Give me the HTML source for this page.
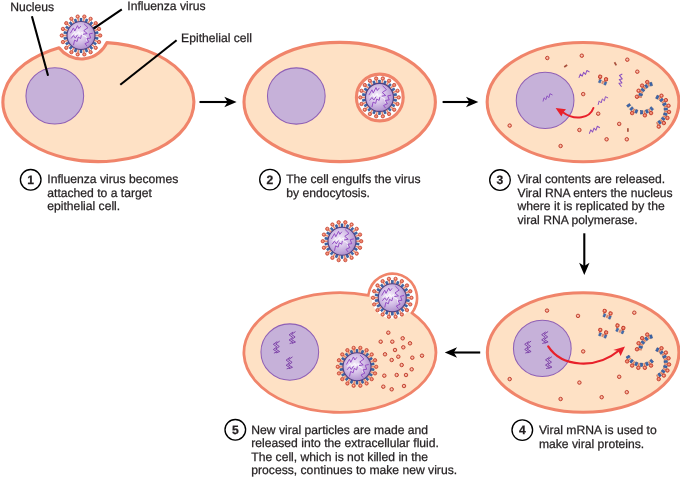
<!DOCTYPE html>
<html lang="en"><head><meta charset="utf-8"><title>Influenza virus infection cycle</title>
<style>
html,body{margin:0;padding:0;background:#fff;}
body{width:680px;height:480px;overflow:hidden;}
svg{display:block;will-change:transform;transform:translateZ(0);}
svg text{text-rendering:geometricPrecision;font-family:"Liberation Sans",Arial,Helvetica,sans-serif;font-size:12.15px;fill:#231F20;stroke:#231F20;stroke-width:0.25px;}
</style></head><body>
<svg width="680" height="480" viewBox="0 0 680 480">
<defs>
<radialGradient id="kg" cx="0.45" cy="0.45" r="0.6"><stop offset="0" stop-color="#FAD0C2"/><stop offset="0.3" stop-color="#F08A70"/><stop offset="1" stop-color="#EB7258"/></radialGradient>
<radialGradient id="pg" cx="0.45" cy="0.45" r="0.6"><stop offset="0" stop-color="#FAD0C2"/><stop offset="0.5" stop-color="#F5A38C"/><stop offset="1" stop-color="#EF8A72"/></radialGradient>
<radialGradient id="vg" cx="0.42" cy="0.42" r="0.62"><stop offset="0" stop-color="#F4ECFA"/><stop offset="0.45" stop-color="#D9C6EA"/><stop offset="1" stop-color="#AB8BCB"/></radialGradient>
<g id="virus"><rect x="-1" y="-17.3" width="2" height="3.3" fill="#3B67B0" stroke="#27457D" stroke-width="0.5" transform="rotate(0)"/><rect x="-1" y="-17.3" width="2" height="3.3" fill="#3B67B0" stroke="#27457D" stroke-width="0.5" transform="rotate(20)"/><rect x="-1" y="-17.3" width="2" height="3.3" fill="#3B67B0" stroke="#27457D" stroke-width="0.5" transform="rotate(40)"/><rect x="-1" y="-17.3" width="2" height="3.3" fill="#3B67B0" stroke="#27457D" stroke-width="0.5" transform="rotate(60)"/><rect x="-1" y="-17.3" width="2" height="3.3" fill="#3B67B0" stroke="#27457D" stroke-width="0.5" transform="rotate(80)"/><rect x="-1" y="-17.3" width="2" height="3.3" fill="#3B67B0" stroke="#27457D" stroke-width="0.5" transform="rotate(100)"/><rect x="-1" y="-17.3" width="2" height="3.3" fill="#3B67B0" stroke="#27457D" stroke-width="0.5" transform="rotate(120)"/><rect x="-1" y="-17.3" width="2" height="3.3" fill="#3B67B0" stroke="#27457D" stroke-width="0.5" transform="rotate(140)"/><rect x="-1" y="-17.3" width="2" height="3.3" fill="#3B67B0" stroke="#27457D" stroke-width="0.5" transform="rotate(160)"/><rect x="-1" y="-17.3" width="2" height="3.3" fill="#3B67B0" stroke="#27457D" stroke-width="0.5" transform="rotate(180)"/><rect x="-1" y="-17.3" width="2" height="3.3" fill="#3B67B0" stroke="#27457D" stroke-width="0.5" transform="rotate(200)"/><rect x="-1" y="-17.3" width="2" height="3.3" fill="#3B67B0" stroke="#27457D" stroke-width="0.5" transform="rotate(220)"/><rect x="-1" y="-17.3" width="2" height="3.3" fill="#3B67B0" stroke="#27457D" stroke-width="0.5" transform="rotate(240)"/><rect x="-1" y="-17.3" width="2" height="3.3" fill="#3B67B0" stroke="#27457D" stroke-width="0.5" transform="rotate(260)"/><rect x="-1" y="-17.3" width="2" height="3.3" fill="#3B67B0" stroke="#27457D" stroke-width="0.5" transform="rotate(280)"/><rect x="-1" y="-17.3" width="2" height="3.3" fill="#3B67B0" stroke="#27457D" stroke-width="0.5" transform="rotate(300)"/><rect x="-1" y="-17.3" width="2" height="3.3" fill="#3B67B0" stroke="#27457D" stroke-width="0.5" transform="rotate(320)"/><rect x="-1" y="-17.3" width="2" height="3.3" fill="#3B67B0" stroke="#27457D" stroke-width="0.5" transform="rotate(340)"/><line x1="2.43" y1="-13.79" x2="3.04" y2="-17.23" stroke="#E88E76" stroke-width="1.6"/><circle cx="3.33" cy="-18.91" r="1.7" fill="url(#kg)" stroke="#BE3828" stroke-width="0.7"/><line x1="7" y1="-12.12" x2="8.75" y2="-15.16" stroke="#E88E76" stroke-width="1.6"/><circle cx="9.6" cy="-16.63" r="1.7" fill="url(#kg)" stroke="#BE3828" stroke-width="0.7"/><line x1="10.72" y1="-9" x2="13.41" y2="-11.25" stroke="#E88E76" stroke-width="1.6"/><circle cx="14.71" cy="-12.34" r="1.7" fill="url(#kg)" stroke="#BE3828" stroke-width="0.7"/><line x1="13.16" y1="-4.79" x2="16.44" y2="-5.99" stroke="#E88E76" stroke-width="1.6"/><circle cx="18.04" cy="-6.57" r="1.7" fill="url(#kg)" stroke="#BE3828" stroke-width="0.7"/><line x1="14" y1="-0" x2="17.5" y2="-0" stroke="#E88E76" stroke-width="1.6"/><circle cx="19.2" cy="-0" r="1.7" fill="url(#kg)" stroke="#BE3828" stroke-width="0.7"/><line x1="13.16" y1="4.79" x2="16.44" y2="5.99" stroke="#E88E76" stroke-width="1.6"/><circle cx="18.04" cy="6.57" r="1.7" fill="url(#kg)" stroke="#BE3828" stroke-width="0.7"/><line x1="10.72" y1="9" x2="13.41" y2="11.25" stroke="#E88E76" stroke-width="1.6"/><circle cx="14.71" cy="12.34" r="1.7" fill="url(#kg)" stroke="#BE3828" stroke-width="0.7"/><line x1="7" y1="12.12" x2="8.75" y2="15.16" stroke="#E88E76" stroke-width="1.6"/><circle cx="9.6" cy="16.63" r="1.7" fill="url(#kg)" stroke="#BE3828" stroke-width="0.7"/><line x1="2.43" y1="13.79" x2="3.04" y2="17.23" stroke="#E88E76" stroke-width="1.6"/><circle cx="3.33" cy="18.91" r="1.7" fill="url(#kg)" stroke="#BE3828" stroke-width="0.7"/><line x1="-2.43" y1="13.79" x2="-3.04" y2="17.23" stroke="#E88E76" stroke-width="1.6"/><circle cx="-3.33" cy="18.91" r="1.7" fill="url(#kg)" stroke="#BE3828" stroke-width="0.7"/><line x1="-7" y1="12.12" x2="-8.75" y2="15.16" stroke="#E88E76" stroke-width="1.6"/><circle cx="-9.6" cy="16.63" r="1.7" fill="url(#kg)" stroke="#BE3828" stroke-width="0.7"/><line x1="-10.72" y1="9" x2="-13.41" y2="11.25" stroke="#E88E76" stroke-width="1.6"/><circle cx="-14.71" cy="12.34" r="1.7" fill="url(#kg)" stroke="#BE3828" stroke-width="0.7"/><line x1="-13.16" y1="4.79" x2="-16.44" y2="5.99" stroke="#E88E76" stroke-width="1.6"/><circle cx="-18.04" cy="6.57" r="1.7" fill="url(#kg)" stroke="#BE3828" stroke-width="0.7"/><line x1="-14" y1="0" x2="-17.5" y2="0" stroke="#E88E76" stroke-width="1.6"/><circle cx="-19.2" cy="0" r="1.7" fill="url(#kg)" stroke="#BE3828" stroke-width="0.7"/><line x1="-13.16" y1="-4.79" x2="-16.44" y2="-5.99" stroke="#E88E76" stroke-width="1.6"/><circle cx="-18.04" cy="-6.57" r="1.7" fill="url(#kg)" stroke="#BE3828" stroke-width="0.7"/><line x1="-10.72" y1="-9" x2="-13.41" y2="-11.25" stroke="#E88E76" stroke-width="1.6"/><circle cx="-14.71" cy="-12.34" r="1.7" fill="url(#kg)" stroke="#BE3828" stroke-width="0.7"/><line x1="-7" y1="-12.12" x2="-8.75" y2="-15.16" stroke="#E88E76" stroke-width="1.6"/><circle cx="-9.6" cy="-16.63" r="1.7" fill="url(#kg)" stroke="#BE3828" stroke-width="0.7"/><line x1="-2.43" y1="-13.79" x2="-3.04" y2="-17.23" stroke="#E88E76" stroke-width="1.6"/><circle cx="-3.33" cy="-18.91" r="1.7" fill="url(#kg)" stroke="#BE3828" stroke-width="0.7"/><circle r="14" fill="url(#vg)" stroke="#4F3F80" stroke-width="1.1"/><polyline points="-9.54,0.09 -6.42,-3.21 -5.32,-0.46 -2.39,-3.94 -1.28,-1.01 1.28,-3.39 2.2,-0.09 5.14,1.38 5.87,5.41" fill="none" stroke="#FFFFFF" stroke-width="1" stroke-linejoin="round" opacity="0.75"/><polyline points="-10.64,-2.29 -7.52,-7.61 -6.24,-4.5 -3.49,-9.82 -2.2,-6.88 -0.18,-9.45" fill="none" stroke="#9048C2" stroke-width="0.95" stroke-linejoin="round"/><polyline points="-7.52,9.63 -6.42,4.68 -3.85,5.96 -2.75,1.56 -0.37,3.03 0.37,-0.28" fill="none" stroke="#9048C2" stroke-width="0.95" stroke-linejoin="round"/><polyline points="3.12,-11.65 6.97,-7.8 2.75,-4.86 6.24,-1.93 2.02,-1.19" fill="none" stroke="#9048C2" stroke-width="0.95" stroke-linejoin="round"/><polyline points="11.74,-2.29 8.26,-1.56 9.72,2.48 5.87,3.03 7.89,6.33 4.04,8.17 6.06,10.73" fill="none" stroke="#9048C2" stroke-width="0.95" stroke-linejoin="round"/><polyline points="-9.91,3.03 -7.52,0.09 -5.69,2.66 -3.49,-0.64" fill="none" stroke="#9048C2" stroke-width="0.95" stroke-linejoin="round"/></g>
<path id="ah" d="M0,0 L-12.3,-5.2 L-9,0 L-12.3,5.2 Z" fill="#000"/>
<circle id="pc" r="1.75" fill="url(#pg)" stroke="#BD3C2B" stroke-width="0.9"/>
<polyline id="sq" points="-5,3.6 -3.9,-0.4 -1.9,1.6 -0.8,-2.4 1.3,-0.5 2.3,-4.6 5,-3.3" fill="none" stroke="#8B50C0" stroke-width="1" stroke-linejoin="round"/>
<g id="dz" fill="none" stroke="#7B3FA6" stroke-width="0.95" stroke-linejoin="round"><polyline points="3.2,-6 -0.8,-3.2 2.8,-0.6 -0.8,2 3.2,4.4 -0.2,5.8"/><polyline points="0.8,-5.6 -3.2,-2.8 0.4,-0.2 -3.2,2.4 0.8,4.8 -2.6,6"/></g>
</defs>
<path d="M106.88,42.64 A95.5,59.6 0 1 1 59.05,47.7 A27.98,27.98 0 0 0 106.88,42.64 Z" fill="#FEE1C5" stroke="#F0846A" stroke-width="3.1" stroke-linejoin="round"/>
<ellipse cx="54.8" cy="95.9" rx="28.85" ry="28.15" fill="#C6B1D9" stroke="#8F60B6" stroke-width="1.05"/>
<use href="#virus" transform="translate(81,35.5)"/>
<ellipse cx="339.7" cy="102" rx="95.7" ry="59.6" fill="#FEE1C5" stroke="#F0846A" stroke-width="3.1" stroke-linejoin="round"/>
<ellipse cx="296.3" cy="96" rx="28.85" ry="28.15" fill="#C6B1D9" stroke="#8F60B6" stroke-width="1.05"/>
<circle cx="379.8" cy="97.5" r="23.4" fill="#fff" stroke="#F0846A" stroke-width="3.1"/>
<use href="#virus" transform="translate(379.5,97.4)"/>
<ellipse cx="583.05" cy="102.1" rx="95.9" ry="59.6" fill="#FEE1C5" stroke="#F0846A" stroke-width="3.1" stroke-linejoin="round"/>
<ellipse cx="545.1" cy="100.4" rx="28.85" ry="28.15" fill="#C6B1D9" stroke="#8F60B6" stroke-width="1.05"/>
<use href="#pc" transform="translate(547.3,58)"/>
<use href="#pc" transform="translate(581.8,55.7)"/>
<use href="#pc" transform="translate(627.3,59.7)"/>
<use href="#pc" transform="translate(637.3,71.7)"/>
<use href="#pc" transform="translate(583.2,94.1)"/>
<use href="#pc" transform="translate(598.2,113.7)"/>
<use href="#pc" transform="translate(579.4,130)"/>
<use href="#pc" transform="translate(619.2,123.9)"/>
<use href="#pc" transform="translate(606.6,139.3)"/>
<use href="#pc" transform="translate(626.8,139.3)"/>
<use href="#pc" transform="translate(560.6,146)"/>
<use href="#pc" transform="translate(509.7,125.6)"/>
<rect x="-1.8" y="-0.85" width="3.6" height="1.7" fill="#A8503C" transform="translate(565.7,66) rotate(-35)"/>
<rect x="-1.8" y="-0.85" width="3.6" height="1.7" fill="#A8503C" transform="translate(615.4,63.8) rotate(60)"/>
<rect x="-1.8" y="-0.85" width="3.6" height="1.7" fill="#A8503C" transform="translate(627.9,130) rotate(90)"/>
<use href="#sq" transform="translate(584.2,74.8) rotate(5)"/>
<use href="#sq" transform="translate(621.8,80.3) rotate(-52) scale(1.05)"/>
<use href="#sq" transform="translate(603.1,101.3) rotate(0)"/>
<use href="#sq" transform="translate(594.6,130.6) rotate(5)"/>
<use href="#sq" transform="translate(547.75,98.1) rotate(0) scale(0.95)"/>
<g transform="translate(603,80.5) rotate(22)"><rect x="-3.6" y="0.2" width="2" height="3.2" fill="#3F6EB6" stroke="#2C4C86" stroke-width="0.4"/><rect x="-0.6" y="0.2" width="2" height="3.2" fill="#C9664E" opacity="0.7"/><rect x="2.2" y="0.2" width="2" height="3.2" fill="#3F6EB6" stroke="#2C4C86" stroke-width="0.4"/><line x1="-4" y1="1" x2="-4" y2="-1" stroke="#C9664E" stroke-width="0.9"/><line x1="2" y1="1" x2="2" y2="-1" stroke="#C9664E" stroke-width="0.9"/><circle cx="-4" cy="-2.4" r="1.7" fill="url(#kg)" stroke="#C23A2A" stroke-width="0.9"/><circle cx="2.4" cy="-2.2" r="1.7" fill="url(#kg)" stroke="#C23A2A" stroke-width="0.9"/></g>
<rect x="-0.8" y="-16.2" width="1.6" height="3.2" fill="#D98468" transform="translate(654.8,98.3) rotate(-85)"/><circle cx="636.97" cy="96.74" r="1.75" fill="url(#kg)" stroke="#C23A2A" stroke-width="0.9"/><rect x="-1.1" y="-16.3" width="2.2" height="3.4" fill="#3B67B0" stroke="#27457D" stroke-width="0.5" transform="translate(654.8,98.3) rotate(-75)"/><rect x="-0.8" y="-16.2" width="1.6" height="3.2" fill="#D98468" transform="translate(654.8,98.3) rotate(-65)"/><circle cx="638.58" cy="90.74" r="1.75" fill="url(#kg)" stroke="#C23A2A" stroke-width="0.9"/><rect x="-1.1" y="-16.3" width="2.2" height="3.4" fill="#3B67B0" stroke="#27457D" stroke-width="0.5" transform="translate(654.8,98.3) rotate(-55)"/><rect x="-0.8" y="-16.2" width="1.6" height="3.2" fill="#D98468" transform="translate(654.8,98.3) rotate(-45)"/><circle cx="642.14" cy="85.64" r="1.75" fill="url(#kg)" stroke="#C23A2A" stroke-width="0.9"/><rect x="-1.1" y="-16.3" width="2.2" height="3.4" fill="#3B67B0" stroke="#27457D" stroke-width="0.5" transform="translate(654.8,98.3) rotate(-35)"/><rect x="-0.8" y="-16.2" width="1.6" height="3.2" fill="#D98468" transform="translate(654.8,98.3) rotate(-25)"/><circle cx="647.24" cy="82.08" r="1.75" fill="url(#kg)" stroke="#C23A2A" stroke-width="0.9"/><rect x="-1.1" y="-16.3" width="2.2" height="3.4" fill="#3B67B0" stroke="#27457D" stroke-width="0.5" transform="translate(654.8,98.3) rotate(-15)"/>
<rect x="-1.1" y="-17.3" width="2.2" height="3.4" fill="#3B67B0" stroke="#27457D" stroke-width="0.5" transform="translate(641.6,96.7) rotate(140)"/><rect x="-0.8" y="-17.2" width="1.6" height="3.2" fill="#D98468" transform="translate(641.6,96.7) rotate(150)"/><circle cx="651.05" cy="113.07" r="1.75" fill="url(#kg)" stroke="#C23A2A" stroke-width="0.9"/><rect x="-1.1" y="-17.3" width="2.2" height="3.4" fill="#3B67B0" stroke="#27457D" stroke-width="0.5" transform="translate(641.6,96.7) rotate(160)"/><rect x="-0.8" y="-17.2" width="1.6" height="3.2" fill="#D98468" transform="translate(641.6,96.7) rotate(170)"/><circle cx="644.88" cy="115.31" r="1.75" fill="url(#kg)" stroke="#C23A2A" stroke-width="0.9"/><rect x="-1.1" y="-17.3" width="2.2" height="3.4" fill="#3B67B0" stroke="#27457D" stroke-width="0.5" transform="translate(641.6,96.7) rotate(180)"/>
<rect x="-1.1" y="-17.3" width="2.2" height="3.4" fill="#3B67B0" stroke="#27457D" stroke-width="0.5" transform="translate(641.6,96.7) rotate(200)"/><rect x="-0.8" y="-17.2" width="1.6" height="3.2" fill="#D98468" transform="translate(641.6,96.7) rotate(210)"/><circle cx="632.15" cy="113.07" r="1.75" fill="url(#kg)" stroke="#C23A2A" stroke-width="0.9"/><rect x="-1.1" y="-17.3" width="2.2" height="3.4" fill="#3B67B0" stroke="#27457D" stroke-width="0.5" transform="translate(641.6,96.7) rotate(220)"/>
<rect x="-1.1" y="-17.3" width="2.2" height="3.4" fill="#3B67B0" stroke="#27457D" stroke-width="0.5" transform="translate(641.6,96.7) rotate(236)"/>
<rect x="-1.1" y="-16.3" width="2.2" height="3.4" fill="#3B67B0" stroke="#27457D" stroke-width="0.5" transform="translate(651.2,110.4) rotate(25)"/><rect x="-0.8" y="-16.2" width="1.6" height="3.2" fill="#D98468" transform="translate(651.2,110.4) rotate(35)"/><circle cx="661.47" cy="95.74" r="1.75" fill="url(#kg)" stroke="#C23A2A" stroke-width="0.9"/><rect x="-1.1" y="-16.3" width="2.2" height="3.4" fill="#3B67B0" stroke="#27457D" stroke-width="0.5" transform="translate(651.2,110.4) rotate(45)"/><rect x="-0.8" y="-16.2" width="1.6" height="3.2" fill="#D98468" transform="translate(651.2,110.4) rotate(55)"/><circle cx="665.86" cy="100.13" r="1.75" fill="url(#kg)" stroke="#C23A2A" stroke-width="0.9"/><rect x="-1.1" y="-16.3" width="2.2" height="3.4" fill="#3B67B0" stroke="#27457D" stroke-width="0.5" transform="translate(651.2,110.4) rotate(65)"/><rect x="-0.8" y="-16.2" width="1.6" height="3.2" fill="#D98468" transform="translate(651.2,110.4) rotate(75)"/><circle cx="668.49" cy="105.77" r="1.75" fill="url(#kg)" stroke="#C23A2A" stroke-width="0.9"/><rect x="-1.1" y="-16.3" width="2.2" height="3.4" fill="#3B67B0" stroke="#27457D" stroke-width="0.5" transform="translate(651.2,110.4) rotate(85)"/><rect x="-0.8" y="-16.2" width="1.6" height="3.2" fill="#D98468" transform="translate(651.2,110.4) rotate(95)"/><circle cx="669.03" cy="111.96" r="1.75" fill="url(#kg)" stroke="#C23A2A" stroke-width="0.9"/><rect x="-1.1" y="-16.3" width="2.2" height="3.4" fill="#3B67B0" stroke="#27457D" stroke-width="0.5" transform="translate(651.2,110.4) rotate(105)"/><rect x="-0.8" y="-16.2" width="1.6" height="3.2" fill="#D98468" transform="translate(651.2,110.4) rotate(115)"/><circle cx="667.42" cy="117.96" r="1.75" fill="url(#kg)" stroke="#C23A2A" stroke-width="0.9"/><rect x="-1.1" y="-16.3" width="2.2" height="3.4" fill="#3B67B0" stroke="#27457D" stroke-width="0.5" transform="translate(651.2,110.4) rotate(125)"/><rect x="-0.8" y="-16.2" width="1.6" height="3.2" fill="#D98468" transform="translate(651.2,110.4) rotate(135)"/><circle cx="663.86" cy="123.06" r="1.75" fill="url(#kg)" stroke="#C23A2A" stroke-width="0.9"/><rect x="-1.1" y="-16.3" width="2.2" height="3.4" fill="#3B67B0" stroke="#27457D" stroke-width="0.5" transform="translate(651.2,110.4) rotate(145)"/><rect x="-0.8" y="-16.2" width="1.6" height="3.2" fill="#D98468" transform="translate(651.2,110.4) rotate(155)"/><circle cx="658.76" cy="126.62" r="1.75" fill="url(#kg)" stroke="#C23A2A" stroke-width="0.9"/>
<path d="M593.4,108 C590,118 575,121.5 562.5,112" fill="none" stroke="#E8202A" stroke-width="2" stroke-linecap="round"/>
<path d="M555.6,108.1 L566,109.2 L563.2,112.4 L561.4,116.6 Z" fill="#E8202A"/>
<ellipse cx="583.15" cy="352.5" rx="95.8" ry="59.8" fill="#FEE1C5" stroke="#F0846A" stroke-width="3.1" stroke-linejoin="round"/>
<ellipse cx="542.3" cy="348.4" rx="28.85" ry="28.15" fill="#C6B1D9" stroke="#8F60B6" stroke-width="1.05"/>
<use href="#pc" transform="translate(547,310.6)"/>
<use href="#pc" transform="translate(578,315.9)"/>
<use href="#pc" transform="translate(634.3,312.7)"/>
<use href="#pc" transform="translate(583.2,351.4)"/>
<use href="#pc" transform="translate(509.7,379.1)"/>
<use href="#pc" transform="translate(579.4,382.6)"/>
<use href="#pc" transform="translate(619.2,376.8)"/>
<use href="#pc" transform="translate(601.7,397.2)"/>
<use href="#pc" transform="translate(626.8,392.2)"/>
<use href="#pc" transform="translate(560.6,399)"/>
<use href="#dz" transform="translate(544.9,337.5)"/>
<use href="#dz" transform="translate(527.9,347.1)"/>
<use href="#dz" transform="translate(548.7,362.7)"/>
<g transform="translate(607.5,314.6) rotate(22)"><rect x="-3.6" y="0.2" width="2" height="3.2" fill="#3F6EB6" stroke="#2C4C86" stroke-width="0.4"/><rect x="-0.6" y="0.2" width="2" height="3.2" fill="#C9664E" opacity="0.7"/><rect x="2.2" y="0.2" width="2" height="3.2" fill="#3F6EB6" stroke="#2C4C86" stroke-width="0.4"/><line x1="-4" y1="1" x2="-4" y2="-1" stroke="#C9664E" stroke-width="0.9"/><line x1="2" y1="1" x2="2" y2="-1" stroke="#C9664E" stroke-width="0.9"/><circle cx="-4" cy="-2.4" r="1.7" fill="url(#kg)" stroke="#C23A2A" stroke-width="0.9"/><circle cx="2.4" cy="-2.2" r="1.7" fill="url(#kg)" stroke="#C23A2A" stroke-width="0.9"/></g>
<g transform="translate(603.1,333.6) rotate(22)"><rect x="-3.6" y="0.2" width="2" height="3.2" fill="#3F6EB6" stroke="#2C4C86" stroke-width="0.4"/><rect x="-0.6" y="0.2" width="2" height="3.2" fill="#C9664E" opacity="0.7"/><rect x="2.2" y="0.2" width="2" height="3.2" fill="#3F6EB6" stroke="#2C4C86" stroke-width="0.4"/><line x1="-4" y1="1" x2="-4" y2="-1" stroke="#C9664E" stroke-width="0.9"/><line x1="2" y1="1" x2="2" y2="-1" stroke="#C9664E" stroke-width="0.9"/><circle cx="-4" cy="-2.4" r="1.7" fill="url(#kg)" stroke="#C23A2A" stroke-width="0.9"/><circle cx="2.4" cy="-2.2" r="1.7" fill="url(#kg)" stroke="#C23A2A" stroke-width="0.9"/></g>
<g transform="translate(620.3,329.2) rotate(22)"><rect x="-3.6" y="0.2" width="2" height="3.2" fill="#3F6EB6" stroke="#2C4C86" stroke-width="0.4"/><rect x="-0.6" y="0.2" width="2" height="3.2" fill="#C9664E" opacity="0.7"/><rect x="2.2" y="0.2" width="2" height="3.2" fill="#3F6EB6" stroke="#2C4C86" stroke-width="0.4"/><line x1="-4" y1="1" x2="-4" y2="-1" stroke="#C9664E" stroke-width="0.9"/><line x1="2" y1="1" x2="2" y2="-1" stroke="#C9664E" stroke-width="0.9"/><circle cx="-4" cy="-2.4" r="1.7" fill="url(#kg)" stroke="#C23A2A" stroke-width="0.9"/><circle cx="2.4" cy="-2.2" r="1.7" fill="url(#kg)" stroke="#C23A2A" stroke-width="0.9"/></g>
<rect x="-0.8" y="-16.2" width="1.6" height="3.2" fill="#D98468" transform="translate(654.8,350.8) rotate(-85)"/><circle cx="636.97" cy="349.24" r="1.75" fill="url(#kg)" stroke="#C23A2A" stroke-width="0.9"/><rect x="-1.1" y="-16.3" width="2.2" height="3.4" fill="#3B67B0" stroke="#27457D" stroke-width="0.5" transform="translate(654.8,350.8) rotate(-75)"/><rect x="-0.8" y="-16.2" width="1.6" height="3.2" fill="#D98468" transform="translate(654.8,350.8) rotate(-65)"/><circle cx="638.58" cy="343.24" r="1.75" fill="url(#kg)" stroke="#C23A2A" stroke-width="0.9"/><rect x="-1.1" y="-16.3" width="2.2" height="3.4" fill="#3B67B0" stroke="#27457D" stroke-width="0.5" transform="translate(654.8,350.8) rotate(-55)"/><rect x="-0.8" y="-16.2" width="1.6" height="3.2" fill="#D98468" transform="translate(654.8,350.8) rotate(-45)"/><circle cx="642.14" cy="338.14" r="1.75" fill="url(#kg)" stroke="#C23A2A" stroke-width="0.9"/><rect x="-1.1" y="-16.3" width="2.2" height="3.4" fill="#3B67B0" stroke="#27457D" stroke-width="0.5" transform="translate(654.8,350.8) rotate(-35)"/><rect x="-0.8" y="-16.2" width="1.6" height="3.2" fill="#D98468" transform="translate(654.8,350.8) rotate(-25)"/><circle cx="647.24" cy="334.58" r="1.75" fill="url(#kg)" stroke="#C23A2A" stroke-width="0.9"/><rect x="-1.1" y="-16.3" width="2.2" height="3.4" fill="#3B67B0" stroke="#27457D" stroke-width="0.5" transform="translate(654.8,350.8) rotate(-15)"/>
<rect x="-1.1" y="-17.3" width="2.2" height="3.4" fill="#3B67B0" stroke="#27457D" stroke-width="0.5" transform="translate(641.6,349.2) rotate(140)"/><rect x="-0.8" y="-17.2" width="1.6" height="3.2" fill="#D98468" transform="translate(641.6,349.2) rotate(150)"/><circle cx="651.05" cy="365.57" r="1.75" fill="url(#kg)" stroke="#C23A2A" stroke-width="0.9"/><rect x="-1.1" y="-17.3" width="2.2" height="3.4" fill="#3B67B0" stroke="#27457D" stroke-width="0.5" transform="translate(641.6,349.2) rotate(160)"/><rect x="-0.8" y="-17.2" width="1.6" height="3.2" fill="#D98468" transform="translate(641.6,349.2) rotate(170)"/><circle cx="644.88" cy="367.81" r="1.75" fill="url(#kg)" stroke="#C23A2A" stroke-width="0.9"/><rect x="-1.1" y="-17.3" width="2.2" height="3.4" fill="#3B67B0" stroke="#27457D" stroke-width="0.5" transform="translate(641.6,349.2) rotate(180)"/><rect x="-0.8" y="-17.2" width="1.6" height="3.2" fill="#D98468" transform="translate(641.6,349.2) rotate(190)"/><circle cx="638.32" cy="367.81" r="1.75" fill="url(#kg)" stroke="#C23A2A" stroke-width="0.9"/><rect x="-1.1" y="-17.3" width="2.2" height="3.4" fill="#3B67B0" stroke="#27457D" stroke-width="0.5" transform="translate(641.6,349.2) rotate(200)"/><rect x="-0.8" y="-17.2" width="1.6" height="3.2" fill="#D98468" transform="translate(641.6,349.2) rotate(210)"/><circle cx="632.15" cy="365.57" r="1.75" fill="url(#kg)" stroke="#C23A2A" stroke-width="0.9"/><rect x="-1.1" y="-17.3" width="2.2" height="3.4" fill="#3B67B0" stroke="#27457D" stroke-width="0.5" transform="translate(641.6,349.2) rotate(220)"/><rect x="-0.8" y="-17.2" width="1.6" height="3.2" fill="#D98468" transform="translate(641.6,349.2) rotate(230)"/><circle cx="627.12" cy="361.35" r="1.75" fill="url(#kg)" stroke="#C23A2A" stroke-width="0.9"/><rect x="-1.1" y="-17.3" width="2.2" height="3.4" fill="#3B67B0" stroke="#27457D" stroke-width="0.5" transform="translate(641.6,349.2) rotate(240)"/>
<rect x="-1.1" y="-16.3" width="2.2" height="3.4" fill="#3B67B0" stroke="#27457D" stroke-width="0.5" transform="translate(651.2,362.9) rotate(25)"/><rect x="-0.8" y="-16.2" width="1.6" height="3.2" fill="#D98468" transform="translate(651.2,362.9) rotate(35)"/><circle cx="661.47" cy="348.24" r="1.75" fill="url(#kg)" stroke="#C23A2A" stroke-width="0.9"/><rect x="-1.1" y="-16.3" width="2.2" height="3.4" fill="#3B67B0" stroke="#27457D" stroke-width="0.5" transform="translate(651.2,362.9) rotate(45)"/><rect x="-0.8" y="-16.2" width="1.6" height="3.2" fill="#D98468" transform="translate(651.2,362.9) rotate(55)"/><circle cx="665.86" cy="352.63" r="1.75" fill="url(#kg)" stroke="#C23A2A" stroke-width="0.9"/><rect x="-1.1" y="-16.3" width="2.2" height="3.4" fill="#3B67B0" stroke="#27457D" stroke-width="0.5" transform="translate(651.2,362.9) rotate(65)"/><rect x="-0.8" y="-16.2" width="1.6" height="3.2" fill="#D98468" transform="translate(651.2,362.9) rotate(75)"/><circle cx="668.49" cy="358.27" r="1.75" fill="url(#kg)" stroke="#C23A2A" stroke-width="0.9"/><rect x="-1.1" y="-16.3" width="2.2" height="3.4" fill="#3B67B0" stroke="#27457D" stroke-width="0.5" transform="translate(651.2,362.9) rotate(85)"/><rect x="-0.8" y="-16.2" width="1.6" height="3.2" fill="#D98468" transform="translate(651.2,362.9) rotate(95)"/><circle cx="669.03" cy="364.46" r="1.75" fill="url(#kg)" stroke="#C23A2A" stroke-width="0.9"/><rect x="-1.1" y="-16.3" width="2.2" height="3.4" fill="#3B67B0" stroke="#27457D" stroke-width="0.5" transform="translate(651.2,362.9) rotate(105)"/><rect x="-0.8" y="-16.2" width="1.6" height="3.2" fill="#D98468" transform="translate(651.2,362.9) rotate(115)"/><circle cx="667.42" cy="370.46" r="1.75" fill="url(#kg)" stroke="#C23A2A" stroke-width="0.9"/><rect x="-1.1" y="-16.3" width="2.2" height="3.4" fill="#3B67B0" stroke="#27457D" stroke-width="0.5" transform="translate(651.2,362.9) rotate(125)"/><rect x="-0.8" y="-16.2" width="1.6" height="3.2" fill="#D98468" transform="translate(651.2,362.9) rotate(135)"/><circle cx="663.86" cy="375.56" r="1.75" fill="url(#kg)" stroke="#C23A2A" stroke-width="0.9"/><rect x="-1.1" y="-16.3" width="2.2" height="3.4" fill="#3B67B0" stroke="#27457D" stroke-width="0.5" transform="translate(651.2,362.9) rotate(145)"/><rect x="-0.8" y="-16.2" width="1.6" height="3.2" fill="#D98468" transform="translate(651.2,362.9) rotate(155)"/><circle cx="658.76" cy="379.12" r="1.75" fill="url(#kg)" stroke="#C23A2A" stroke-width="0.9"/>
<path d="M548.2,346.4 C562,367.5 596,369.5 619,350.5" fill="none" stroke="#E8202A" stroke-width="2.2" stroke-linecap="round"/>
<path d="M625,346.6 L620.6,356 L618.4,351 L613.2,350 Z" fill="#E8202A"/>
<path d="M411.81,312.9 A96,59.85 0 1 1 368.44,295.41 A24.3,24.3 0 1 1 411.81,312.9 Z" fill="#FEE1C5" stroke="#F0846A" stroke-width="2.8" stroke-linejoin="round"/>
<clipPath id="budclip"><path d="M368.44,295.41 L360,260 L430,260 L411.81,312.9 Z"/></clipPath>
<circle cx="392.6" cy="298" r="23.1" fill="#fff" clip-path="url(#budclip)"/>
<circle cx="392.25" cy="297.8" r="20.7" fill="#fff"/>
<ellipse cx="289.8" cy="352" rx="28.85" ry="28.15" fill="#C6B1D9" stroke="#8F60B6" stroke-width="1.05"/>
<use href="#dz" transform="translate(292.3,337.6)"/>
<use href="#dz" transform="translate(276.5,347.1)"/>
<use href="#dz" transform="translate(289.3,362.9)"/>
<use href="#virus" transform="translate(392.25,297.8)"/>
<use href="#virus" transform="translate(357,366.8)"/>
<use href="#pc" transform="translate(388.3,332.7)"/>
<use href="#pc" transform="translate(380.7,341.7)"/>
<use href="#pc" transform="translate(392.3,341.7)"/>
<use href="#pc" transform="translate(402.7,338.3)"/>
<use href="#pc" transform="translate(410,343.3)"/>
<use href="#pc" transform="translate(403.3,347.3)"/>
<use href="#pc" transform="translate(395,350)"/>
<use href="#pc" transform="translate(385,354.3)"/>
<use href="#pc" transform="translate(391.7,360)"/>
<use href="#pc" transform="translate(398.3,356.7)"/>
<use href="#pc" transform="translate(412.3,357.7)"/>
<use href="#pc" transform="translate(422,355.7)"/>
<use href="#pc" transform="translate(401.7,365)"/>
<use href="#pc" transform="translate(411.7,369.3)"/>
<use href="#pc" transform="translate(384.3,375.7)"/>
<use href="#pc" transform="translate(396.7,375)"/>
<use href="#pc" transform="translate(406,375)"/>
<use href="#pc" transform="translate(383.3,386.7)"/>
<use href="#pc" transform="translate(391.7,389.3)"/>
<use href="#pc" transform="translate(404,386)"/>
<use href="#virus" transform="translate(342,241.2)"/>
<line x1="199.5" y1="102" x2="228.6" y2="102" stroke="#000" stroke-width="2.1"/>
<use href="#ah" transform="translate(236.6,102) rotate(0)"/>
<line x1="442.6" y1="102" x2="470.3" y2="102" stroke="#000" stroke-width="2.1"/>
<use href="#ah" transform="translate(478.3,102) rotate(0)"/>
<line x1="584.3" y1="233.3" x2="584.3" y2="267" stroke="#000" stroke-width="2.1"/>
<use href="#ah" transform="translate(584.3,275) rotate(90)"/>
<line x1="480.2" y1="352.5" x2="452.8" y2="352.5" stroke="#000" stroke-width="2.1"/>
<use href="#ah" transform="translate(444.8,352.5) rotate(180)"/>
<line x1="31.9" y1="16.3" x2="48.1" y2="75.8" stroke="#000" stroke-width="2.1"/>
<line x1="121.8" y1="9.3" x2="93.5" y2="28.6" stroke="#000" stroke-width="2.1"/>
<line x1="176.6" y1="40.3" x2="120.3" y2="84.7" stroke="#000" stroke-width="2.1"/>
<text x="10.2" y="10.9">Nucleus</text>
<text x="127.3" y="10.1">Influenza virus</text>
<text x="181.1" y="41.7">Epithelial cell</text>
<circle cx="30.7" cy="179.8" r="10.3" fill="#fff" stroke="#000" stroke-width="1.35"/>
<text x="30.7" y="183.9" text-anchor="middle" font-weight="bold" font-size="11.5">1</text>
<text x="47.3" y="183.4">Influenza virus becomes</text>
<text x="47.3" y="196.9">attached to a target</text>
<text x="47.3" y="210.4">epithelial cell.</text>
<circle cx="270" cy="179.6" r="10.3" fill="#fff" stroke="#000" stroke-width="1.35"/>
<text x="270" y="183.7" text-anchor="middle" font-weight="bold" font-size="11.5">2</text>
<text x="286.2" y="183.4">The cell engulfs the virus</text>
<text x="286.2" y="196.9">by endocytosis.</text>
<circle cx="500" cy="180" r="10.3" fill="#fff" stroke="#000" stroke-width="1.35"/>
<text x="500" y="184.1" text-anchor="middle" font-weight="bold" font-size="11.5">3</text>
<text x="517.55" y="183.4">Viral contents are released.</text>
<text x="517.55" y="196.9">Viral RNA enters the nucleus</text>
<text x="517.55" y="210.4">where it is replicated by the</text>
<text x="517.55" y="223.9">viral RNA polymerase.</text>
<circle cx="522.3" cy="430.1" r="10.3" fill="#fff" stroke="#000" stroke-width="1.35"/>
<text x="522.3" y="434.2" text-anchor="middle" font-weight="bold" font-size="11.5">4</text>
<text x="538.9" y="434.2">Viral mRNA is used to</text>
<text x="538.9" y="447.7">make viral proteins.</text>
<circle cx="235.3" cy="429.8" r="10.3" fill="#fff" stroke="#000" stroke-width="1.35"/>
<text x="235.3" y="433.9" text-anchor="middle" font-weight="bold" font-size="11.5">5</text>
<text x="251.3" y="433.9">New viral particles are made and</text>
<text x="251.3" y="447.4">released into the extracellular fluid.</text>
<text x="251.3" y="460.9">The cell, which is not killed in the</text>
<text x="251.3" y="474.4">process, continues to make new virus.</text>
</svg>
</body></html>
